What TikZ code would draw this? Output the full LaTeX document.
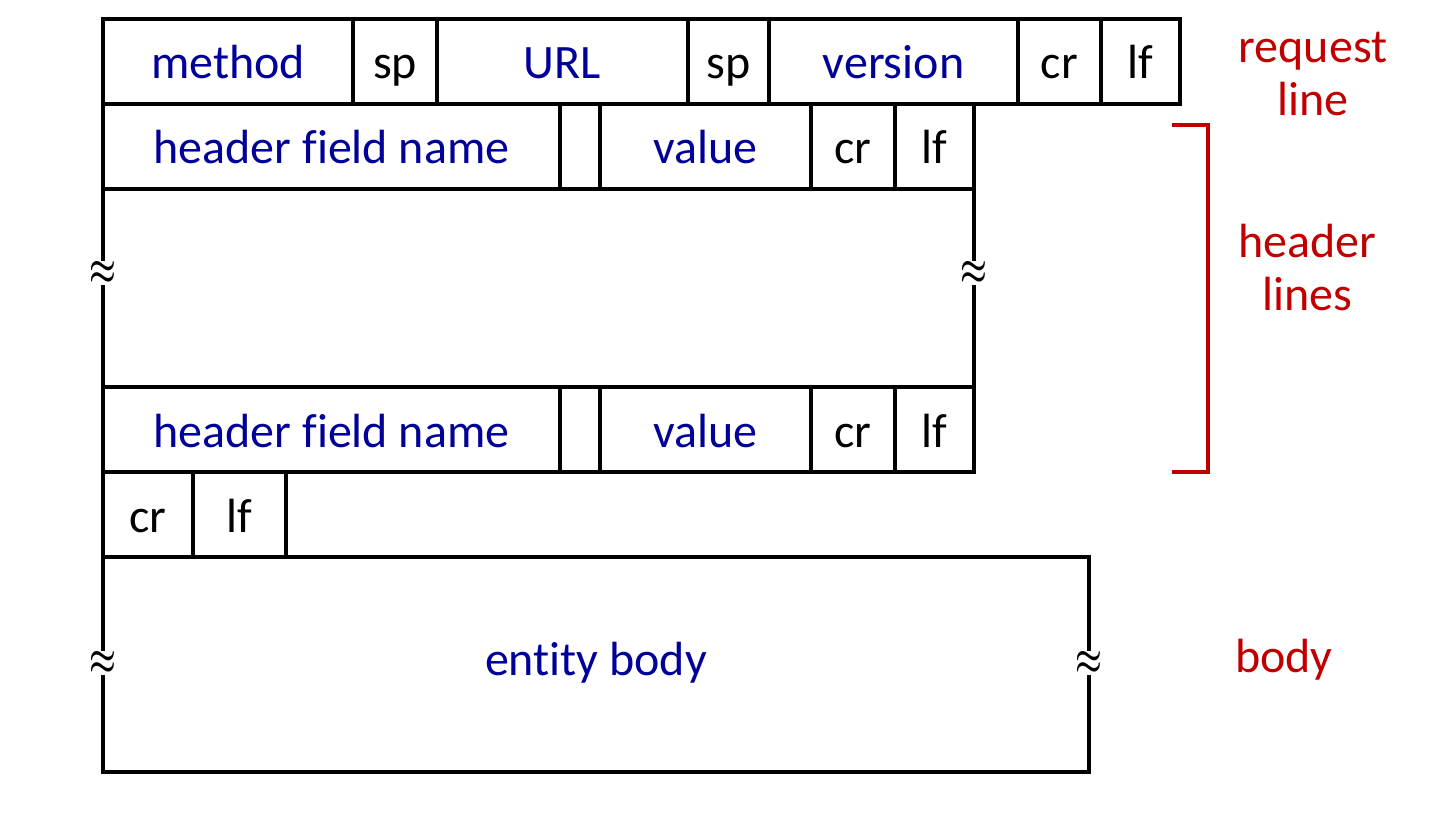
\documentclass[tikz,border=0pt]{standalone}
\usepackage{fontspec}
\setmainfont[Ligatures=CommonOff]{Carlito}
\usepackage{xcolor}
\usepackage{tikz}
\usetikzlibrary{positioning}
\definecolor{bleu}{RGB}{0,0,153}
\definecolor{rouge}{RGB}{192,0,0}
\tikzset{
Champ/.style={
 draw=black, 
 line width=3.2pt, 
 rectangle, 
 minimum width=#1, 
 minimum height=85pt, 
 inner sep=0pt, 
 outer sep=0pt, 
 text height=35pt, 
 text depth=0pt, 
 font=\fontsize{48}{56}\selectfont
 },
Champ/.default={84pt},
ChampBleu/.style={
 Champ=#1, 
 text=bleu
 },
ChampBleu/.default={84pt},
Etiquette/.style={
 text=rouge, 
 align=center, 
 font=\fontsize{48}{53}\selectfont
 },
Coupure/.style={
 fill=white, 
 inner sep=0pt, 
 font=\normalsize
 },
Trait/.style={
 draw=black, 
 line width=3.2pt
 }
}
\newcommand{\coupe}{\scalebox{3}[4.2]{\boldmath$\approx$}}
\begin{document}
\begin{tikzpicture}[x=1pt,y=-1pt]
\useasboundingbox (0,0) rectangle (1440,826);
\node[ChampBleu=250pt,anchor=north west] (methode) at (103,19) {method};
\node[Champ=84pt,right=0pt of methode] (sp1) {sp};
\node[ChampBleu=251pt,right=0pt of sp1] (url) {URL};
\node[Champ=81pt,right=0pt of url] (sp2) {sp};
\node[ChampBleu=249pt,right=0pt of sp2] (version) {version};
\node[Champ=83pt,right=0pt of version] (cr1) {cr};
\node[Champ=79pt,right=0pt of cr1] (lf1) {lf};
\node[ChampBleu=457pt,anchor=north west] (nom2) at (103,104) {header field name};
\node[Champ=40pt,right=0pt of nom2] (vide2) {};
\node[ChampBleu=211pt,right=0pt of vide2] (valeur2) {value};
\node[Champ=84pt,right=0pt of valeur2] (cr2) {cr};
\node[Champ=79pt,right=0pt of cr2] (lf2) {lf};
\node[ChampBleu=457pt,anchor=north west] (nom3) at (103,387) {header field name};
\node[Champ=40pt,right=0pt of nom3] (vide3) {};
\node[ChampBleu=211pt,right=0pt of vide3] (valeur3) {value};
\node[Champ=84pt,right=0pt of valeur3] (cr3) {cr};
\node[Champ=79pt,right=0pt of cr3] (lf3) {lf};
\node[Champ=90pt,anchor=north west] (cr4) at (103,472) {cr};
\node[Champ=93pt,right=0pt of cr4] (lf4) {lf};
\node[ChampBleu=986pt,minimum height=215pt,text height=22pt,anchor=north west] (corps) at (103,557) {entity body};
\draw[Trait] (nom2.south west) -- (nom3.north west);
\draw[Trait] (lf2.south east) -- (lf3.north east);
\node[Coupure] (coupeG) at (103,273) {\coupe};
\node[Coupure] (coupeD) at (974,273) {\coupe};
\node[Coupure] (coupeCG) at (103,663) {\coupe};
\node[Coupure] (coupeCD) at (1089,663) {\coupe};
\coordinate (crochetH) at (1172,125);
\coordinate (crochetB) at (1172,472);
\draw[rouge,line width=3.2pt] (crochetH) -- ++(36,0) |- (crochetB);
\node[Etiquette] (requete) at (1313,74) {request\\line};
\node[Etiquette] (entetes) at (1307,268) {header\\lines};
\node[Etiquette] (corpsLbl) at (1284,660) {body};
\end{tikzpicture}
\end{document}
